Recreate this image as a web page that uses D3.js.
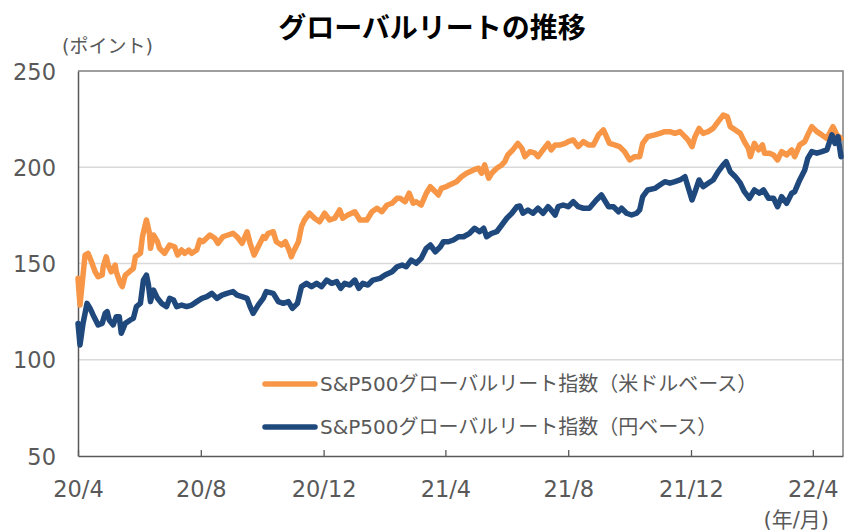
<!DOCTYPE html>
<html>
<head>
<meta charset="utf-8">
<script src="https://cdn.jsdelivr.net/npm/d3@7"></script>
<style>
  body { margin: 0; background: #fff; }
  svg text { font-family: "DejaVu Sans", "Noto Sans CJK JP", sans-serif; fill: #595959; }
</style>
</head>
<body>
<svg id="chart" width="845" height="532"></svg>
<script>
//////// data
var chartTitle = "グローバルリートの推移"
var seriesNames = ["S&P500グローバルリート指数（米ドルベース）", "S&P500グローバルリート指数（円ベース）"]
var seriesColors = ["#f79646", "#1f497d"]
var yTicks = [50, 100, 150, 200, 250]
var xTicks = ["2020-04-01", "2020-08-01", "2020-12-01", "2021-04-01", "2021-08-01", "2021-12-01", "2022-04-01"]

// 米ドルベース
var usdSeries = [
  ["2020-04-01",142.3],["2020-04-03",128.4],["2020-04-08",154.4],["2020-04-11",155.3],["2020-04-15",150.1],
  ["2020-04-18",145.7],["2020-04-21",143.1],["2020-04-25",144.0],["2020-04-26",148.3],["2020-04-29",153.5],
  ["2020-05-01",149.2],["2020-05-04",145.7],["2020-05-08",149.2],["2020-05-09",145.7],["2020-05-13",139.7],
  ["2020-05-15",138.0],["2020-05-18",144.0],["2020-05-22",145.7],["2020-05-26",147.5],["2020-05-28",153.5],
  ["2020-06-02",155.3],["2020-06-04",163.9],["2020-06-08",172.6],["2020-06-11",165.7],["2020-06-12",157.9],
  ["2020-06-15",164.8],["2020-06-19",161.3],["2020-06-21",157.9],["2020-06-26",155.3],["2020-07-01",159.6],
  ["2020-07-06",158.7],["2020-07-09",154.4],["2020-07-13",157.0],["2020-07-16",155.3],["2020-07-20",157.0],
  ["2020-07-23",155.3],["2020-07-28",157.0],["2020-07-31",162.2],["2020-08-03",161.3],["2020-08-10",164.8],
  ["2020-08-15",163.1],["2020-08-18",160.5],["2020-08-23",163.9],["2020-08-28",164.8],["2020-09-02",165.7],
  ["2020-09-06",163.9],["2020-09-11",160.5],["2020-09-16",166.5],["2020-09-19",160.5],["2020-09-23",154.4],
  ["2020-09-27",158.7],["2020-10-02",163.9],["2020-10-04",163.1],["2020-10-07",165.7],["2020-10-12",166.5],
  ["2020-10-15",161.3],["2020-10-20",159.6],["2020-10-24",161.3],["2020-10-27",157.9],["2020-10-30",153.5],
  ["2020-11-01",156.1],["2020-11-06",161.3],["2020-11-09",169.1],["2020-11-12",172.6],["2020-11-17",176.1],
  ["2020-11-22",173.5],["2020-11-27",171.7],["2020-12-02",176.1],["2020-12-07",172.6],["2020-12-12",173.5],
  ["2020-12-17",177.8],["2020-12-20",173.5],["2020-12-25",175.2],["2021-01-01",176.9],["2021-01-06",172.6],
  ["2021-01-13",172.6],["2021-01-18",176.9],["2021-01-23",178.7],["2021-01-28",176.9],["2021-02-02",180.4],
  ["2021-02-07",181.3],["2021-02-12",183.9],["2021-02-15",183.9],["2021-02-20",182.1],["2021-02-24",186.5],
  ["2021-02-28",181.3],["2021-03-03",182.1],["2021-03-08",180.4],["2021-03-13",186.5],["2021-03-17",189.9],
  ["2021-03-22",187.3],["2021-03-25",185.6],["2021-03-28",189.0],["2021-04-02",189.9],["2021-04-05",190.8],
  ["2021-04-12",192.5],["2021-04-17",195.1],["2021-04-22",196.9],["2021-04-29",198.6],["2021-05-04",199.5],
  ["2021-05-07",196.9],["2021-05-10",201.2],["2021-05-14",194.3],["2021-05-17",196.9],["2021-05-22",199.5],
  ["2021-05-27",201.2],["2021-05-30",202.9],["2021-06-02",206.4],["2021-06-07",209.0],["2021-06-12",212.4],
  ["2021-06-16",209.8],["2021-06-19",205.5],["2021-06-24",208.1],["2021-06-29",207.3],["2021-07-02",205.5],
  ["2021-07-07",209.0],["2021-07-12",212.4],["2021-07-15",209.0],["2021-07-19",211.6],["2021-07-24",211.6],
  ["2021-07-29",212.4],["2021-08-01",213.3],["2021-08-06",214.2],["2021-08-11",210.7],["2021-08-16",213.3],
  ["2021-08-21",211.6],["2021-08-26",211.6],["2021-08-31",216.8],["2021-09-05",219.4],["2021-09-08",215.9],
  ["2021-09-11",212.4],["2021-09-16",211.6],["2021-09-21",210.7],["2021-09-26",208.1],["2021-10-01",203.8],
  ["2021-10-06",205.5],["2021-10-11",205.5],["2021-10-14",212.4],["2021-10-19",215.9],["2021-10-26",216.8],
  ["2021-10-31",217.6],["2021-11-05",218.5],["2021-11-10",218.5],["2021-11-15",217.6],["2021-11-20",218.5],
  ["2021-11-25",215.9],["2021-11-28",214.2],["2021-12-02",210.7],["2021-12-05",215.9],["2021-12-09",220.2],
  ["2021-12-13",217.6],["2021-12-18",218.5],["2021-12-23",220.2],["2021-12-28",223.7],["2022-01-02",227.1],
  ["2022-01-06",226.3],["2022-01-09",221.1],["2022-01-14",219.4],["2022-01-19",217.6],["2022-01-23",213.3],
  ["2022-01-27",209.8],["2022-01-29",205.5],["2022-02-02",212.4],["2022-02-06",209.0],["2022-02-10",211.6],
  ["2022-02-12",207.3],["2022-02-17",207.3],["2022-02-21",206.4],["2022-02-25",203.8],["2022-03-01",208.1],
  ["2022-03-06",206.4],["2022-03-11",209.0],["2022-03-14",205.5],["2022-03-19",211.6],["2022-03-24",213.3],
  ["2022-03-27",216.8],["2022-03-31",221.1],["2022-04-05",218.5],["2022-04-10",216.8],["2022-04-15",215.0],
  ["2022-04-21",221.1],["2022-04-25",216.8],["2022-04-29",215.0]
]

// 円ベース
var jpySeries = [
  ["2020-04-01",118.9],["2020-04-03",107.7],["2020-04-06",118.9],["2020-04-10",129.3],["2020-04-13",126.7],
  ["2020-04-16",123.3],["2020-04-21",118.1],["2020-04-25",118.9],["2020-04-28",124.1],["2020-04-30",125.0],
  ["2020-05-02",120.7],["2020-05-06",118.1],["2020-05-09",122.4],["2020-05-12",122.4],["2020-05-14",113.8],
  ["2020-05-18",118.9],["2020-05-23",120.7],["2020-05-26",121.5],["2020-05-29",127.6],["2020-06-02",129.3],
  ["2020-06-05",141.4],["2020-06-08",144.0],["2020-06-10",138.8],["2020-06-12",130.2],["2020-06-15",136.2],
  ["2020-06-19",131.9],["2020-06-23",129.3],["2020-06-28",127.6],["2020-07-01",131.9],["2020-07-05",131.0],
  ["2020-07-08",127.6],["2020-07-13",128.4],["2020-07-18",127.6],["2020-07-23",128.4],["2020-07-28",130.2],
  ["2020-08-02",131.9],["2020-08-07",132.8],["2020-08-12",134.5],["2020-08-17",131.9],["2020-08-22",133.6],
  ["2020-08-27",134.5],["2020-09-02",135.4],["2020-09-06",133.6],["2020-09-11",132.8],["2020-09-16",131.9],
  ["2020-09-19",127.6],["2020-09-22",124.1],["2020-09-27",128.4],["2020-10-02",131.9],["2020-10-05",135.4],
  ["2020-10-12",134.5],["2020-10-17",130.2],["2020-10-22",129.3],["2020-10-27",130.2],["2020-10-31",126.7],
  ["2020-11-05",129.3],["2020-11-09",138.0],["2020-11-14",139.7],["2020-11-19",138.0],["2020-11-24",139.7],
  ["2020-11-29",138.0],["2020-12-04",141.4],["2020-12-09",139.7],["2020-12-14",140.6],["2020-12-18",137.1],
  ["2020-12-22",139.7],["2020-12-27",138.8],["2021-01-01",141.4],["2021-01-05",137.1],["2021-01-09",139.7],
  ["2021-01-14",138.8],["2021-01-19",141.4],["2021-01-26",142.3],["2021-01-31",144.0],["2021-02-07",145.7],
  ["2021-02-12",148.3],["2021-02-17",149.2],["2021-02-21",148.3],["2021-02-26",151.8],["2021-03-03",150.1],
  ["2021-03-08",152.7],["2021-03-13",157.9],["2021-03-17",159.6],["2021-03-22",156.1],["2021-03-27",158.7],
  ["2021-03-30",161.3],["2021-04-04",161.3],["2021-04-09",162.2],["2021-04-14",163.9],["2021-04-19",163.9],
  ["2021-04-25",165.7],["2021-04-30",168.3],["2021-05-05",166.5],["2021-05-09",168.3],["2021-05-12",163.9],
  ["2021-05-17",165.7],["2021-05-22",166.5],["2021-05-27",170.0],["2021-06-01",173.5],["2021-06-06",176.1],
  ["2021-06-11",179.5],["2021-06-14",179.9],["2021-06-17",176.1],["2021-06-22",177.8],["2021-06-27",176.1],
  ["2021-07-02",178.7],["2021-07-07",176.1],["2021-07-12",179.5],["2021-07-15",177.8],["2021-07-19",175.2],
  ["2021-07-22",179.5],["2021-07-27",180.4],["2021-08-01",179.5],["2021-08-06",182.1],["2021-08-11",179.5],
  ["2021-08-16",178.7],["2021-08-22",178.7],["2021-08-29",183.0],["2021-09-03",185.6],["2021-09-06",183.0],
  ["2021-09-10",179.5],["2021-09-15",179.5],["2021-09-20",176.9],["2021-09-23",178.7],["2021-09-28",176.1],
  ["2021-10-03",175.2],["2021-10-08",176.1],["2021-10-11",177.8],["2021-10-14",184.7],["2021-10-19",188.2],
  ["2021-10-26",189.0],["2021-10-31",190.8],["2021-11-05",192.5],["2021-11-10",191.7],["2021-11-15",192.5],
  ["2021-11-20",193.4],["2021-11-25",195.1],["2021-11-28",189.9],["2021-12-02",183.0],["2021-12-05",187.3],
  ["2021-12-09",193.4],["2021-12-13",189.9],["2021-12-18",191.7],["2021-12-23",193.4],["2021-12-28",197.7],
  ["2022-01-02",201.2],["2022-01-05",202.9],["2022-01-09",197.7],["2022-01-14",195.1],["2022-01-19",191.7],
  ["2022-01-23",187.3],["2022-01-28",183.9],["2022-02-02",188.2],["2022-02-07",186.5],["2022-02-11",188.2],
  ["2022-02-16",183.9],["2022-02-21",183.9],["2022-02-25",179.5],["2022-03-01",184.7],["2022-03-06",181.3],
  ["2022-03-11",186.5],["2022-03-14",187.3],["2022-03-19",193.4],["2022-03-24",198.6],["2022-03-27",204.6],
  ["2022-03-31",208.1],["2022-04-05",207.3],["2022-04-10",208.1],["2022-04-15",209.0],["2022-04-20",216.8],
  ["2022-04-23",212.4],["2022-04-26",215.9],["2022-04-29",205.5]
]

//////// chart
var parse = d3.timeParse("%Y-%m-%d")
var svg = d3.select("#chart")
var plotLeft = 78, plotRight = 843, plotTop = 71, plotBottom = 456

var x = d3.scaleTime()
  .domain([parse("2020-04-01"), parse("2022-05-01")])
  .range([plotLeft, plotRight])
var y = d3.scaleLinear().domain([50, 250]).range([plotBottom, plotTop])

// title + unit labels
svg.append("text")
  .attr("x", 432).attr("y", 38)
  .attr("text-anchor", "middle")
  .style("font-family", "'Noto Sans CJK JP', sans-serif")
  .style("font-size", "28px").style("font-weight", "bold")
  .style("fill", "#000")
  .text(chartTitle)

svg.append("text")
  .attr("x", 62).attr("y", 53)
  .style("font-size", "19px")
  .text("(ポイント)")

svg.append("text")
  .attr("x", 829).attr("y", 527)
  .attr("text-anchor", "end")
  .style("font-size", "21px")
  .text("(年/月)")

// gridlines
svg.append("g")
  .selectAll("line")
  .data(yTicks.filter(d => d > 50 && d < 250))
  .join("line")
  .attr("x1", plotLeft).attr("x2", plotRight)
  .attr("y1", d => y(d)).attr("y2", d => y(d))
  .attr("stroke", "#d9d9d9").attr("stroke-width", 1.5)

// frame top / right
svg.append("path")
  .attr("d", "M" + plotLeft + "," + y(250) + "H" + plotRight + "V" + plotBottom)
  .attr("fill", "none").attr("stroke", "#7f7f7f").attr("stroke-width", 1.5)

// y axis
var yAxis = svg.append("g")
  .attr("transform", "translate(" + plotLeft + ",0)")
  .call(d3.axisLeft(y).tickValues(yTicks).tickSize(0).tickPadding(22))
yAxis.select(".domain").attr("stroke", "#595959").attr("stroke-width", 1.5)
yAxis.selectAll("text")
  .style("font-size", "22.5px")
  .attr("dy", "0.36em")

// x axis
var xAxis = svg.append("g")
  .attr("transform", "translate(0," + plotBottom + ")")
  .call(d3.axisBottom(x)
    .tickValues(xTicks.map(parse))
    .tickSizeInner(-6).tickSizeOuter(0)
    .tickFormat(d3.timeFormat("%y/%-m")))
xAxis.select(".domain").attr("stroke", "#595959").attr("stroke-width", 1.5)
xAxis.selectAll(".tick line").attr("stroke", "#595959").attr("stroke-width", 1.3)
xAxis.selectAll("text")
  .style("font-size", "22.5px")
  .attr("y", 41).attr("dy", 0)

// lines
var line = d3.line()
  .x(d => x(parse(d[0])))
  .y(d => y(d[1]))
  .curve(d3.curveLinear)

var allSeries = [usdSeries, jpySeries]
svg.append("g")
  .selectAll("path")
  .data(allSeries)
  .join("path")
  .attr("d", line)
  .attr("fill", "none")
  .attr("stroke", (d, i) => seriesColors[i])
  .attr("stroke-width", 5.5)
  .attr("stroke-linejoin", "round")
  .attr("stroke-linecap", "round")

// legend
var legend = svg.append("g")
  .selectAll("g")
  .data(seriesNames)
  .join("g")
  .attr("transform", (d, i) => "translate(265," + (384 + i * 43) + ")")
legend.append("line")
  .attr("x1", 0).attr("x2", 50)
  .attr("stroke", (d, i) => seriesColors[i])
  .attr("stroke-width", 5.5)
  .attr("stroke-linecap", "round")
legend.append("text")
  .attr("x", 55).attr("dy", "0.36em")
  .style("font-size", "20px")
  .text(d => d)
</script>
</body>
</html>
